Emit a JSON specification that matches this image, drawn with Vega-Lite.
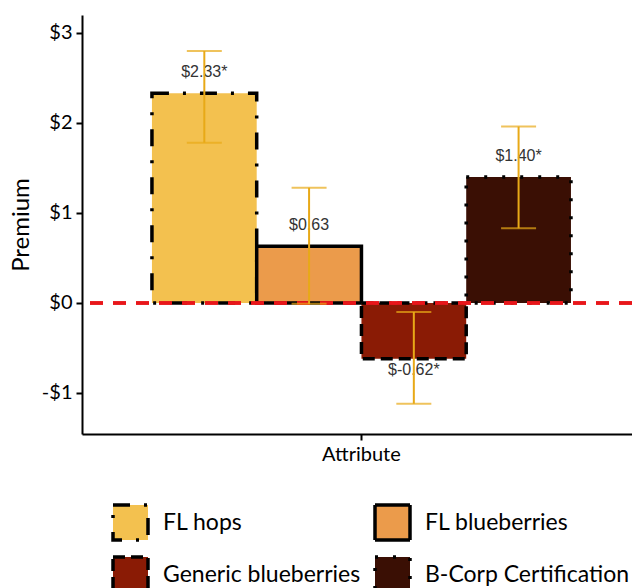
{
  "$schema": "https://vega.github.io/schema/vega-lite/v6.json",
  "width": 550,
  "height": 419,
  "autosize": {"type": "none"},
  "padding": {"left": 82, "top": 15, "right": 0, "bottom": 154},
  "background": "white",
  "config": {
    "view": {"stroke": null},
    "axis": {"grid": false, "domainColor": "black", "tickColor": "black", "labelColor": "black", "titleColor": "black", "labelFont": "Lato", "titleFont": "Lato"},
    "legend": {"labelFont": "Lato"}
  },
  "data": {
    "values": [
      {"attribute": "FL hops", "premium": 2.33, "lo": 1.78, "hi": 2.80, "label": "$2.33*", "axis": "Attribute"},
      {"attribute": "FL blueberries", "premium": 0.63, "lo": -0.01, "hi": 1.28, "label": "$0.63", "axis": "Attribute"},
      {"attribute": "Generic blueberries", "premium": -0.62, "lo": -1.12, "hi": -0.10, "label": "$-0.62*", "axis": "Attribute"},
      {"attribute": "B-Corp Certification", "premium": 1.40, "lo": 0.83, "hi": 1.96, "label": "$1.40*", "axis": "Attribute"}
    ]
  },
  "encoding": {
    "x": {
      "field": "axis", "type": "nominal",
      "scale": {"paddingInner": 0, "paddingOuter": 0.1563, "align": 0.534},
      "axis": {"title": null, "labelAngle": 0, "labelFontSize": 20, "domainWidth": 2, "tickWidth": 2, "tickSize": 6, "labelPadding": 4}
    },
    "xOffset": {
      "field": "attribute", "type": "nominal",
      "sort": ["FL hops", "FL blueberries", "Generic blueberries", "B-Corp Certification"],
      "scale": {"paddingInner": 0, "paddingOuter": 0}
    }
  },
  "layer": [
    {
      "mark": {"type": "bar", "stroke": "black", "strokeWidth": 3.5},
      "encoding": {
        "y": {
          "field": "premium", "type": "quantitative",
          "scale": {"domain": [-1.456, 3.2], "nice": false, "zero": false},
          "axis": {
            "title": "Premium", "titleFontSize": 24, "titleFontWeight": "normal", "titlePadding": 8,
            "values": [-1, 0, 1, 2, 3],
            "labelExpr": "datum.value < 0 ? '-$' + abs(datum.value) : '$' + datum.value",
            "labelFontSize": 20, "labelPadding": 4, "tickSize": 6, "tickWidth": 2, "domainWidth": 2
          }
        },
        "fill": {
          "field": "attribute", "type": "nominal",
          "sort": ["FL hops", "FL blueberries", "Generic blueberries", "B-Corp Certification"],
          "scale": {"domain": ["FL hops", "FL blueberries", "Generic blueberries", "B-Corp Certification"], "range": ["#F3C14F", "#EB9B4B", "#8A1B05", "#3A0F04"]},
          "legend": {
            "title": null, "orient": "none", "legendX": 29, "legendY": 488, "columns": 2, "direction": "horizontal",
            "symbolType": "square", "symbolSize": 1225, "symbolStrokeColor": "black", "symbolStrokeWidth": 3.5,
            "symbolOpacity": 1, "symbolFillOpacity": 1, "labelLimit": 400,
            "labelFontSize": 23, "labelOffset": 13, "columnPadding": 7, "rowPadding": 3, "padding": 0,
            "labelColor": "black"
          }
        },
        "strokeDash": {
          "field": "attribute", "type": "nominal",
          "sort": ["FL hops", "FL blueberries", "Generic blueberries", "B-Corp Certification"],
          "scale": {"domain": ["FL hops", "FL blueberries", "Generic blueberries", "B-Corp Certification"], "range": [[17, 14, 3, 14], [1, 0], [12, 6], [3, 15]]}
        }
      }
    },
    {
      "mark": {"type": "rule", "color": "#E8161A", "strokeWidth": 3, "strokeDash": [13, 10]},
      "encoding": {"y": {"datum": 0}, "x": null, "xOffset": null}
    },
    {
      "transform": [{"filter": "datum.premium >= 0"}],
      "mark": {"type": "text", "font": "Liberation Sans", "fontSize": 16, "color": "#333333", "baseline": "middle", "dy": -21},
      "encoding": {"y": {"field": "premium", "type": "quantitative"}, "text": {"field": "label"}}
    },
    {
      "transform": [{"filter": "datum.premium < 0"}],
      "mark": {"type": "text", "font": "Liberation Sans", "fontSize": 16, "color": "#333333", "baseline": "middle", "dy": 11},
      "encoding": {"y": {"field": "premium", "type": "quantitative"}, "text": {"field": "label"}}
    },
    {
      "mark": {"type": "rule", "color": "#E8A917", "strokeWidth": 2},
      "encoding": {"y": {"field": "lo", "type": "quantitative"}, "y2": {"field": "hi"}}
    },
    {
      "mark": {"type": "tick", "color": "#E8A917", "thickness": 2, "size": 35, "orient": "horizontal"},
      "encoding": {"y": {"field": "lo", "type": "quantitative"}}
    },
    {
      "mark": {"type": "tick", "color": "#E8A917", "thickness": 2, "size": 35, "orient": "horizontal"},
      "encoding": {"y": {"field": "hi", "type": "quantitative"}}
    }
  ]
}
